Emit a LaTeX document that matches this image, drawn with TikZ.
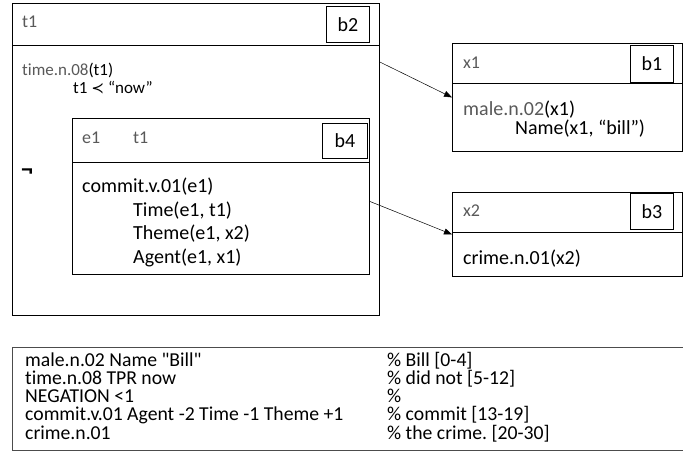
\documentclass[tikz,border=0pt]{standalone}
\usepackage{fontspec}
\setmainfont{Carlito}[Ligatures={NoCommon,TeXOff}]
\newfontfamily\relfont{DejaVu Sans}[Scale=0.9]
\usetikzlibrary{arrows.meta}

\definecolor{termgray}{RGB}{89,89,89}
\frenchspacing

\tikzset{
  drsbox/.style={draw, line width=0.8pt, anchor=north west, inner sep=0pt},
  refbox/.style={draw, line width=0.8pt, minimum width=43pt, minimum height=36pt,
    inner sep=0pt, anchor=north east, font=\fontsize{20}{24}\selectfont},
  cond/.style={anchor=base west, inner sep=0pt, font=\fontsize{20}{24}\selectfont},
  dref/.style={cond, text=termgray, font=\fontsize{18}{20}\selectfont},
  lnk/.style={-{Triangle[length=8pt,width=6pt]}, line width=0.5pt},
  tabline/.style={anchor=base west, inner sep=0pt, font=\fontsize{19.7}{20}\selectfont}
}

\begin{document}
\begin{tikzpicture}[x=1pt, y=-1pt]
\useasboundingbox (0,0) rectangle (683,452);
\clip (0,0) rectangle (683,452);

% outer box with the negated sub-box
\node[drsbox, minimum width=367pt, minimum height=312pt] (b2box) at (12,3) {};
\draw[line width=0.8pt] ([yshift=-42pt]b2box.north west) -- ([yshift=-42pt]b2box.north east);
\node[refbox] (b2) at ([xshift=-10pt,yshift=-3pt]b2box.north east) {b2};
\node[dref] (t1head) at (22,28) {t1};
\node[cond, align=left, font=\fontsize{17}{18.5}\selectfont] (timecond) at (22,94)
    {\textcolor{termgray}{time.n.08}(t1)\\\hspace*{51pt}t1 {\relfont ≺} “now”};
\node[cond, font=\bfseries\fontsize{24}{24}\selectfont] (neg) at (21,177) {¬};

\node[drsbox, minimum width=297pt, minimum height=156pt] (b4box) at (72,118) {};
\draw[line width=0.8pt] ([yshift=-44pt]b4box.north west) -- ([yshift=-44pt]b4box.north east);
\node[refbox, minimum width=45pt, minimum height=35pt] (b4) at ([xshift=-2pt,yshift=-5pt]b4box.north east) {b4};
\node[dref] (e1head) at (82,143) {e1};
\node[dref] (t1ref) at (133,143) {t1};
\node[cond] (commit) at (82,192) {commit.v.01(e1)};
\foreach \rel/\y [count=\i] in {{Time(e1, t1)}/216, {Theme(e1, x2)}/239, {Agent(e1, x1)}/263}
    \node[cond] (role\i) at (133,\y) {\rel};

% boxes for the referents x1 and x2
\node[drsbox, minimum width=230pt, minimum height=108pt] (b1box) at (452,43) {};
\draw[line width=0.8pt] ([yshift=-40pt]b1box.north west) -- ([yshift=-40pt]b1box.north east);
\node[refbox, minimum height=37pt] (b1) at ([xshift=-9pt,yshift=-2pt]b1box.north east) {b1};
\node[dref] (x1head) at (463,69) {x1};
\node[cond, align=left, font=\fontsize{20}{16.5}\selectfont] (malecond) at (463,134)
    {\textcolor{termgray}{male.n.02}(x1)\\\hspace*{52pt}Name(x1, “bill”)};

\node[drsbox, minimum width=230pt, minimum height=84pt] (b3box) at (452,192) {};
\draw[line width=0.8pt] ([yshift=-40pt]b3box.north west) -- ([yshift=-40pt]b3box.north east);
\node[refbox] (b3) at ([xshift=-9pt,yshift=-1pt]b3box.north east) {b3};
\node[dref] (x2head) at (463,216) {x2};
\node[cond] (crimecond) at (463,264) {crime.n.01(x2)};

\draw[lnk] ([yshift=-59pt]b2box.north east) -- (b1box.west);
\draw[lnk] ([yshift=-5pt]b4box.east) -- (b3box.west);

% clause listing
\node[drsbox, draw=black!70, minimum width=700pt, minimum height=103pt] (listing) at (12,347) {};
\foreach \lhs/\rhs [count=\i from 0] in {
    {male.n.02 Name "Bill"}/{\% Bill [0-4]},
    {time.n.08 TPR now}/{\% did not [5-12]},
    {NEGATION <1}/{\%},
    {commit.v.01 Agent -2 Time -1 Theme +1}/{\% commit [13-19]},
    {crime.n.01}/{\% the crime. [20-30]}}
{
    \node[tabline] (clause\i) at (25,{366+18.3*\i}) {\lhs};
    \node[tabline] (anchor\i) at (387,{366+18.3*\i}) {\rhs};
}
\end{tikzpicture}
\end{document}
